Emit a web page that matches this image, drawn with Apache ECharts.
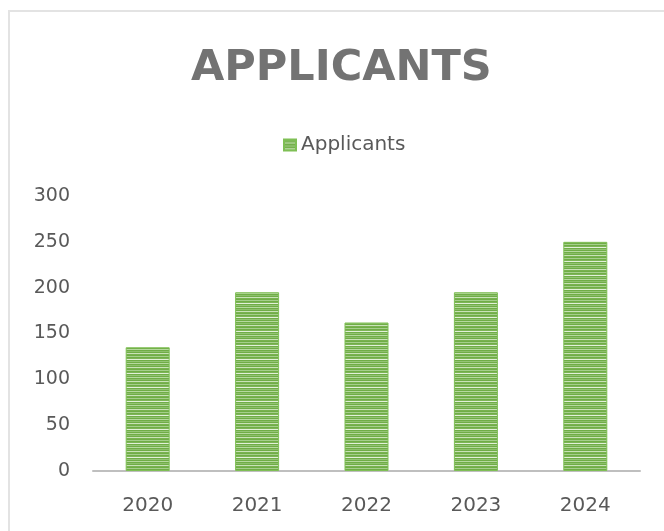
<!DOCTYPE html>
<html>
<head>
<meta charset="utf-8">
<script src="https://cdn.jsdelivr.net/npm/echarts@6/dist/echarts.min.js"></script>
<style>
html,body{margin:0;padding:0;background:#fff;}
#frame{position:absolute;left:8px;top:10px;width:680px;height:540px;border:2px solid #e3e3e3;box-sizing:border-box;}
#chart{position:absolute;left:0;top:0;width:664px;height:531px;}
</style>
</head>
<body>
<div id="frame"></div>
<div id="chart"></div>
<script>
var categories = ['2020', '2021', '2022', '2023', '2024'];
var applicants = [135, 195, 162, 195, 250];
var seriesName = 'Applicants';
var titleText = 'APPLICANTS';

// striped green fill pattern (style only)
function makeStripes() {
  var c = document.createElement('canvas');
  c.width = 4; c.height = 14;
  var ctx = c.getContext('2d');
  var rows = ['#70ad47','#8cbf6a','#70ad47','#c9e2b8','#78b24f','#70ad47','#a5cf8b',
              '#70ad47','#7db556','#e2f0d9','#70ad47','#93c474','#70ad47','#b6d99f'];
  for (var i = 0; i < rows.length; i++) { ctx.fillStyle = rows[i]; ctx.fillRect(0, i, 4, 1); }
  return c;
}
var stripe = makeStripes();

var chart = echarts.init(document.getElementById('chart'), null, {renderer: 'canvas'});
chart.setOption({
  backgroundColor: 'transparent',
  animation: false,
  title: {
    text: titleText,
    left: 186,
    top: 42,
    textStyle: {
      fontFamily: 'DejaVu Sans', fontSize: 43, fontWeight: 'bold', color: '#737373'
    }
  },
  legend: {
    data: [seriesName],
    top: 130,
    left: 278,
    itemWidth: 12, itemHeight: 11, itemGap: 8,
    icon: 'rect',
    textStyle: {fontFamily: 'DejaVu Sans', fontSize: 20, color: '#595959'}
  },
  grid: {left: 93, right: 24, top: 196, bottom: 60, containLabel: false},
  xAxis: {
    type: 'category',
    data: categories,
    axisLine: {lineStyle: {color: '#bfbfbf', width: 2}},
    axisTick: {show: false},
    axisLabel: {fontFamily: 'DejaVu Sans', fontSize: 20, color: '#595959', margin: 25}
  },
  yAxis: {
    type: 'value',
    min: 0, max: 300, interval: 50,
    axisLine: {show: false},
    axisTick: {show: false},
    splitLine: {show: false},
    axisLabel: {fontFamily: 'DejaVu Sans', fontSize: 19, color: '#595959', margin: 23, padding: [6, 0, 0, 0]}
  },
  series: [{
    name: seriesName,
    type: 'bar',
    data: applicants,
    barWidth: 44,
    itemStyle: {color: {image: stripe, repeat: 'repeat'}, borderColor: '#7fbf55', borderWidth: 1}
  }]
});
</script>
</body>
</html>
